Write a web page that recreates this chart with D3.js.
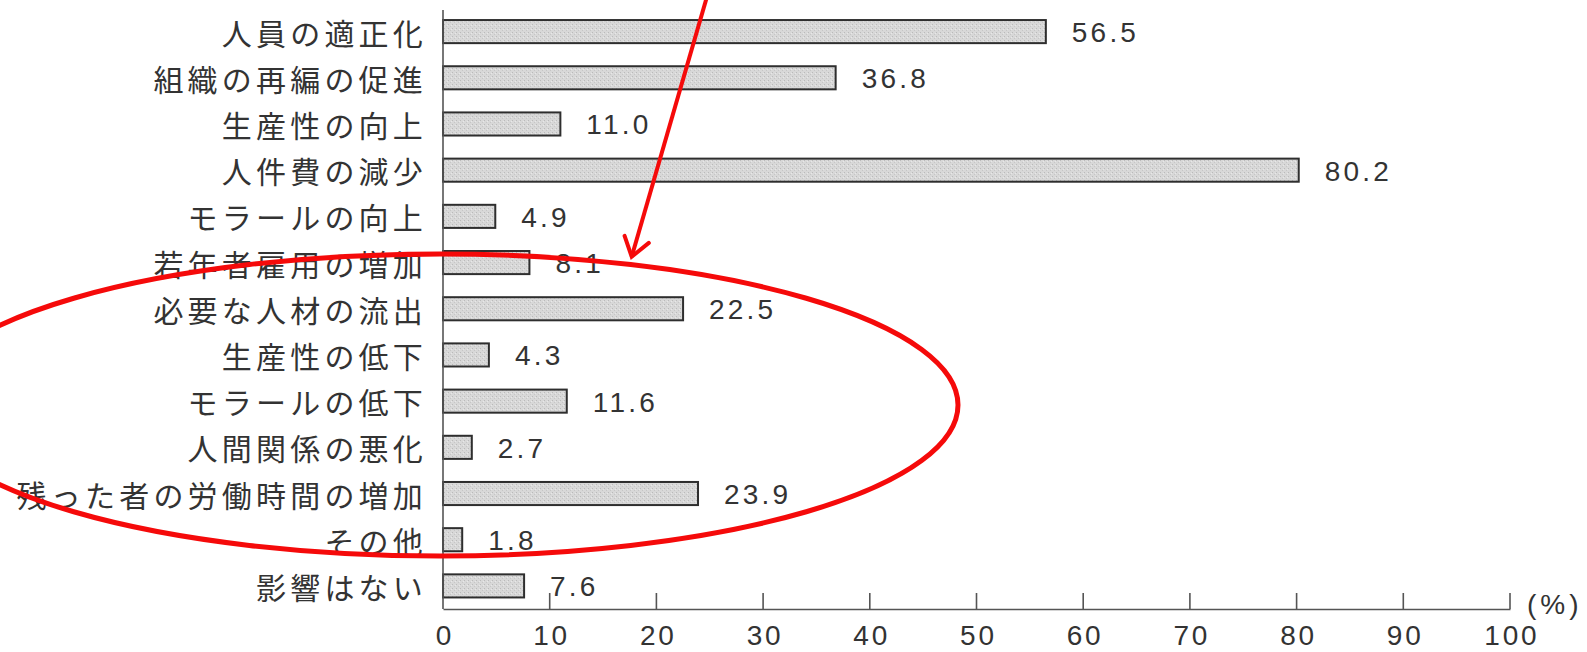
<!DOCTYPE html>
<html lang="ja">
<head>
<meta charset="utf-8">
<script src="https://cdn.jsdelivr.net/npm/d3@7"></script>
<style>
  html, body { margin: 0; padding: 0; background: #fff; }
  svg { display: block; }
  .cat { font-family: "Noto Sans CJK JP", "Noto Sans", sans-serif; font-size: 30px; fill: #333; letter-spacing: 4.2px; }
  .val { font-family: "Liberation Sans", Arial, sans-serif; font-size: 28px; fill: #333; letter-spacing: 3.2px; }
  .tick-label { font-family: "Liberation Sans", Arial, sans-serif; font-size: 28px; fill: #333; letter-spacing: 2.8px; }
  .unit { font-family: "Liberation Sans", Arial, sans-serif; font-size: 28px; fill: #333; letter-spacing: 4px; }
</style>
</head>
<body>
<svg id="chart" width="1587" height="652"></svg>
<script>
// Survey items and their shares (%)
const categories = [
  "人員の適正化", "組織の再編の促進", "生産性の向上", "人件費の減少",
  "モラールの向上", "若年者雇用の増加", "必要な人材の流出", "生産性の低下",
  "モラールの低下", "人間関係の悪化", "残った者の労働時間の増加", "その他", "影響はない"
];
const values = [56.5, 36.8, 11.0, 80.2, 4.9, 8.1, 22.5, 4.3, 11.6, 2.7, 23.9, 1.8, 7.6];
const tickValues = [0, 10, 20, 30, 40, 50, 60, 70, 80, 90, 100];
const unitLabel = "(%)";

const svg = d3.select("#chart");

// Stippled grey fill for the bars
const defs = svg.append("defs");
const pat = defs.append("pattern")
  .attr("id", "stipple").attr("patternUnits", "userSpaceOnUse")
  .attr("width", 4).attr("height", 4);
pat.append("rect").attr("width", 4).attr("height", 4).attr("fill", "#d8d8d8");
pat.append("rect").attr("x", 0).attr("y", 0).attr("width", 1).attr("height", 1).attr("fill", "#bababa");
pat.append("rect").attr("x", 2).attr("y", 2).attr("width", 1).attr("height", 1).attr("fill", "#c6c6c6");
pat.append("rect").attr("x", 3).attr("y", 1).attr("width", 1).attr("height", 1).attr("fill", "#e8e8e8");

const x = d3.scaleLinear().domain([0, 100]).range([443, 1510]);
const y = d3.scaleBand().domain(categories).range([8.5, 609])
  .paddingInner(0.5).paddingOuter(0.25);

const axisY = 609;

// Bars
svg.append("g").selectAll("rect")
  .data(categories)
  .join("rect")
  .attr("x", x(0))
  .attr("y", d => y(d))
  .attr("width", (d, i) => x(values[i]) - x(0))
  .attr("height", y.bandwidth())
  .attr("fill", "url(#stipple)")
  .attr("stroke", "#2e2e2e")
  .attr("stroke-width", 2);

// Value labels
svg.append("g").selectAll("text")
  .data(categories)
  .join("text")
  .attr("class", "val")
  .attr("x", (d, i) => x(values[i]) + 26)
  .attr("y", d => y(d) + y.bandwidth() / 2 + 1)
  .attr("dominant-baseline", "central")
  .text((d, i) => values[i].toFixed(1));

// Category labels
svg.append("g").selectAll("text")
  .data(categories)
  .join("text")
  .attr("class", "cat")
  .attr("x", 427)
  .attr("y", d => y(d) + y.bandwidth() / 2)
  .attr("text-anchor", "end")
  .attr("dominant-baseline", "central")
  .text(d => d);

// Vertical axis line
svg.append("line")
  .attr("x1", x(0)).attr("x2", x(0))
  .attr("y1", 10).attr("y2", axisY)
  .attr("stroke", "#555").attr("stroke-width", 1.6);

// Horizontal axis with upward ticks
const xAxis = d3.axisBottom(x).tickValues(tickValues).tickSize(0).tickFormat(d3.format("d"));
const gx = svg.append("g").attr("transform", `translate(0,${axisY})`).call(xAxis);
gx.attr("font-family", null).attr("font-size", null);
gx.select(".domain").attr("stroke", "#555").attr("stroke-width", 1.6);
gx.selectAll(".tick line").remove();
gx.selectAll(".tick text")
  .attr("class", "tick-label")
  .attr("x", 1.4)
  .attr("y", 36)
  .attr("dy", null)
  .attr("fill", null);

svg.append("g").selectAll("line")
  .data(tickValues.filter(v => v > 0))
  .join("line")
  .attr("x1", d => x(d)).attr("x2", d => x(d))
  .attr("y1", axisY).attr("y2", axisY - 16)
  .attr("stroke", "#555").attr("stroke-width", 1.6);

svg.append("text")
  .attr("class", "unit")
  .attr("x", x(100) + 17)
  .attr("y", axisY - 5)
  .attr("dominant-baseline", "central")
  .text(unitLabel);

// Red annotation: ellipse around the negative effects and an arrow pointing at it
const red = "#f50a0a";
svg.append("ellipse")
  .attr("cx", 440).attr("cy", 405).attr("rx", 518).attr("ry", 151)
  .attr("fill", "none").attr("stroke", red).attr("stroke-width", 5);

const tip = [631.7, 256.7], tail = [711.8, -20];
svg.append("line")
  .attr("x1", tail[0]).attr("y1", tail[1]).attr("x2", tip[0]).attr("y2", tip[1])
  .attr("stroke", red).attr("stroke-width", 4);
const back = Math.atan2(tail[1] - tip[1], tail[0] - tip[0]);
const armLen = 22, spread = 35 * Math.PI / 180;
const headPts = [
  [tip[0] + armLen * Math.cos(back - spread), tip[1] + armLen * Math.sin(back - spread)],
  tip,
  [tip[0] + armLen * Math.cos(back + spread), tip[1] + armLen * Math.sin(back + spread)]
];
svg.append("path")
  .attr("d", d3.line()(headPts))
  .attr("fill", "none").attr("stroke", red).attr("stroke-width", 4)
  .attr("stroke-linejoin", "miter").attr("stroke-linecap", "round");
</script>
</body>
</html>
